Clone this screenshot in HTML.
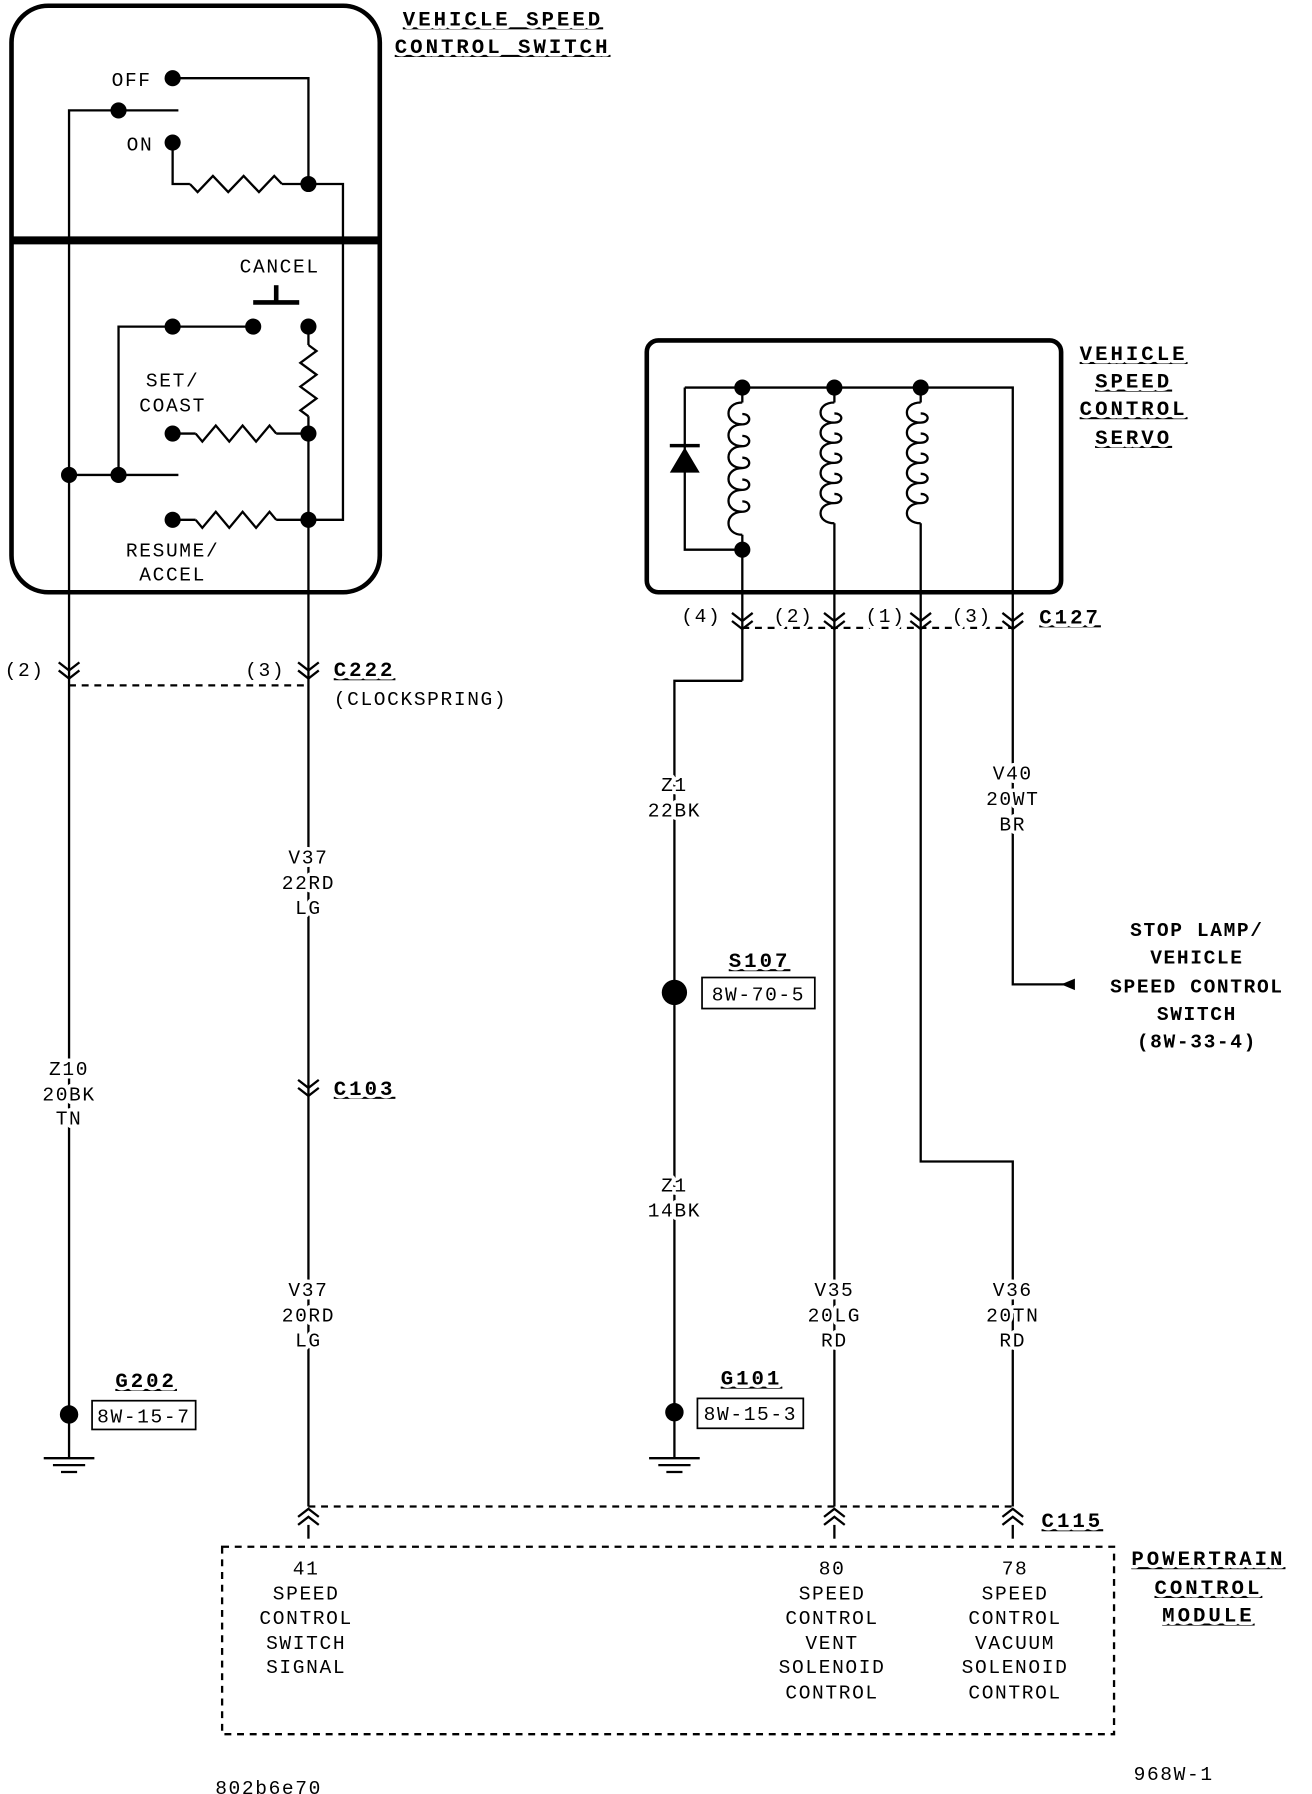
<!DOCTYPE html>
<html><head><meta charset="utf-8"><style>
html,body{margin:0;padding:0;background:#fff;}
svg{display:block}
text{font-family:"Liberation Mono",monospace;font-size:17px;fill:#000;paint-order:stroke;stroke:#fff;stroke-width:6px;stroke-linejoin:round;letter-spacing:1.4px;}
.b{font-weight:bold;font-size:18px;text-decoration:underline;letter-spacing:2.6px;}
.m{text-anchor:middle}
</style></head><body>
<svg width="1312" height="1794" viewBox="0 0 1140 1560" preserveAspectRatio="none" xmlns="http://www.w3.org/2000/svg">
<g fill="none" stroke="#000" stroke-width="2">
<rect x="10" y="5" width="320" height="510" rx="32" stroke-width="4"/>
<line x1="10" y1="209" x2="330" y2="209" stroke-width="7"/>
<rect x="562" y="296" width="360" height="219" rx="10" stroke-width="4"/>
<polyline points="150,68 268,68 268,160"/>
<polyline points="60,1230 60,96 155,96"/>
<polyline points="150,124 150,160 165,160"/>
<polyline points="245,160 298,160 298,452 268,452"/>
<line x1="220" y1="263" x2="260" y2="263" stroke-width="4"/>
<line x1="240" y1="248" x2="240" y2="263" stroke-width="4"/>
<polyline points="150,284 220,284"/>
<polyline points="150,284 103,284 103,413"/>
<line x1="60" y1="413" x2="155" y2="413"/>
<polyline points="268,284 268,300"/>
<polyline points="268,362 268,1310"/>
<line x1="150" y1="377" x2="170" y2="377"/><line x1="240" y1="377" x2="268" y2="377"/>
<line x1="150" y1="452" x2="170" y2="452"/><line x1="240" y1="452" x2="268" y2="452"/>
<polyline points="165,160 171.7,167 185,153 198.3,167 211.7,153 225,167 238.3,153 245,160"/>
<polyline points="268,300 275,305.2 261,315.5 275,325.8 261,336.2 275,346.5 261,356.8 268,362"/>
<polyline points="170,377 175.8,384 187.5,370 199.2,384 210.8,370 222.5,384 234.2,370 240,377"/>
<polyline points="170,452 175.8,459 187.5,445 199.2,459 210.8,445 222.5,459 234.2,445 240,452"/>
<line x1="60" y1="596" x2="268" y2="596" stroke-dasharray="6,5"/>
<polyline points="595,337 880,337 880,540"/>
<polyline points="595,337 595,478 645,478"/>
<line x1="645" y1="337" x2="645" y2="350"/><line x1="645" y1="465" x2="645" y2="592"/>
<polyline points="645,592 586,592 586,1228"/>
<line x1="725" y1="337" x2="725" y2="350"/><line x1="725" y1="455" x2="725" y2="1310"/>
<line x1="800" y1="337" x2="800" y2="350"/><polyline points="800,455 800,1010 880,1010 880,1310"/>
<polyline points="880,540 880,856 928,856"/>
<line x1="645" y1="546" x2="880" y2="546" stroke-dasharray="6,5"/>
<line x1="268" y1="1310" x2="880" y2="1310" stroke-dasharray="6,5"/>
<rect x="193" y="1345" width="775" height="163" stroke-dasharray="6,5"/>
<rect x="80" y="1218" width="90" height="25" stroke-width="1.5"/>
<rect x="610" y="850" width="98" height="27" stroke-width="1.5"/>
<rect x="606" y="1216" width="92" height="26" stroke-width="1.5"/>
<!-- coils: loops -->
<path d="M645,350 c-16,0 -16,19 0,19 c8,0 8,-9 0,-9 M645,369 c-16,0 -16,19 0,19 c8,0 8,-9 0,-9 M645,388 c-16,0 -16,19 0,19 c8,0 8,-9 0,-9 M645,407 c-16,0 -16,19 0,19 c8,0 8,-9 0,-9 M645,426 c-16,0 -16,19 0,19 c8,0 8,-9 0,-9 M645,445 c-16,0 -16,20 0,20"/>
<path d="M725,350 c-16,0 -16,17.5 0,17.5 c8,0 8,-8 0,-8 M725,367.5 c-16,0 -16,17.5 0,17.5 c8,0 8,-8 0,-8 M725,385 c-16,0 -16,17.5 0,17.5 c8,0 8,-8 0,-8 M725,402.5 c-16,0 -16,17.5 0,17.5 c8,0 8,-8 0,-8 M725,420 c-16,0 -16,17.5 0,17.5 c8,0 8,-8 0,-8 M725,437.5 c-16,0 -16,17.5 0,17.5"/>
<path d="M800,350 c-16,0 -16,17.5 0,17.5 c8,0 8,-8 0,-8 M800,367.5 c-16,0 -16,17.5 0,17.5 c8,0 8,-8 0,-8 M800,385 c-16,0 -16,17.5 0,17.5 c8,0 8,-8 0,-8 M800,402.5 c-16,0 -16,17.5 0,17.5 c8,0 8,-8 0,-8 M800,420 c-16,0 -16,17.5 0,17.5 c8,0 8,-8 0,-8 M800,437.5 c-16,0 -16,17.5 0,17.5"/>
<!-- chevrons down -->
<path d="M51,576 L60,583 L69,576 M51,583 L60,590 L69,583"/>
<path d="M259,576 L268,583 L277,576 M259,583 L268,590 L277,583"/>
<path d="M259,939 L268,946 L277,939 M259,946 L268,953 L277,946"/>
<path d="M636,533 L645,540 L654,533 M636,540 L645,547 L654,540"/>
<path d="M716,533 L725,540 L734,533 M716,540 L725,547 L734,540"/>
<path d="M791,533 L800,540 L809,533 M791,540 L800,547 L809,540"/>
<path d="M871,533 L880,540 L889,533 M871,540 L880,547 L889,540"/>
<!-- chevrons up -->
<path d="M259,1319 L268,1312 L277,1319 M259,1326 L268,1319 L277,1326"/>
<path d="M716,1319 L725,1312 L734,1319 M716,1326 L725,1319 L734,1326"/>
<path d="M871,1319 L880,1312 L889,1319 M871,1326 L880,1319 L889,1326"/>
<line x1="268" y1="1326" x2="268" y2="1338"/><line x1="725" y1="1326" x2="725" y2="1338"/><line x1="880" y1="1326" x2="880" y2="1338"/>
<!-- grounds -->
<line x1="38" y1="1268" x2="82" y2="1268"/><line x1="46" y1="1274" x2="74" y2="1274"/><line x1="53" y1="1280" x2="67" y2="1280"/><line x1="60" y1="1230" x2="60" y2="1268"/>
<line x1="564" y1="1268" x2="608" y2="1268"/><line x1="572" y1="1274" x2="600" y2="1274"/><line x1="579" y1="1280" x2="593" y2="1280"/><line x1="586" y1="1228" x2="586" y2="1268"/>
</g>
<g fill="#000">
<polygon points="582,411 608,411 595,389"/>
<rect x="582" y="386" width="26" height="3"/>
<polygon points="922,856 934,851 934,861"/>
<circle cx="150" cy="68" r="7"/><circle cx="103" cy="96" r="7"/><circle cx="150" cy="124" r="7"/><circle cx="268" cy="160" r="7"/>
<circle cx="150" cy="284" r="7"/><circle cx="220" cy="284" r="7"/><circle cx="268" cy="284" r="7"/>
<circle cx="150" cy="377" r="7"/><circle cx="268" cy="377" r="7"/><circle cx="60" cy="413" r="7"/><circle cx="103" cy="413" r="7"/>
<circle cx="150" cy="452" r="7"/><circle cx="268" cy="452" r="7"/>
<circle cx="645" cy="337" r="7"/><circle cx="725" cy="337" r="7"/><circle cx="800" cy="337" r="7"/><circle cx="645" cy="478" r="7"/>
<circle cx="60" cy="1230" r="8"/><circle cx="586" cy="1228" r="8"/><circle cx="586" cy="863" r="11"/>
</g>
<g>
<text x="97" y="75">OFF</text><text x="110" y="131">ON</text>
<text x="243" y="237" class="m">CANCEL</text>
<text x="150" y="336" class="m">SET/</text><text x="150" y="358" class="m">COAST</text>
<text x="150" y="484" class="m">RESUME/</text><text x="150" y="505" class="m">ACCEL</text>
<text x="4" y="588">(2)</text><text x="213" y="588">(3)</text>
<text class="b" x="290" y="588">C222</text><text x="290" y="613">(CLOCKSPRING)</text>
<text class="m" x="268" y="751">V37</text><text class="m" x="268" y="773">22RD</text><text class="m" x="268" y="795">LG</text>
<text class="b" x="290" y="952">C103</text>
<text class="m" x="268" y="1127">V37</text><text class="m" x="268" y="1149">20RD</text><text class="m" x="268" y="1171">LG</text>
<text class="m" x="60" y="935">Z10</text><text class="m" x="60" y="957">20BK</text><text class="m" x="60" y="978">TN</text>
<text class="b m" x="127" y="1206">G202</text><text class="m" x="125" y="1237">8W-15-7</text>
<text class="b" x="350" y="22">VEHICLE SPEED</text><text class="b" x="343" y="46">CONTROL SWITCH</text>
<text class="b m" x="985" y="313">VEHICLE</text><text class="b m" x="985" y="337">SPEED</text><text class="b m" x="985" y="361">CONTROL</text><text class="b m" x="985" y="386">SERVO</text>
<text x="592" y="541">(4)</text><text x="672" y="541">(2)</text><text x="752" y="541">(1)</text><text x="827" y="541">(3)</text>
<text class="b" x="903" y="542">C127</text>
<text class="m" x="586" y="688">Z1</text><text class="m" x="586" y="710">22BK</text>
<text class="b m" x="660" y="841">S107</text><text class="m" x="659" y="870">8W-70-5</text>
<text class="m" x="586" y="1036">Z1</text><text class="m" x="586" y="1058">14BK</text>
<text class="b m" x="653" y="1204">G101</text><text class="m" x="652" y="1235">8W-15-3</text>
<text class="m" x="880" y="678">V40</text><text class="m" x="880" y="700">20WT</text><text class="m" x="880" y="722">BR</text>
<g style="font-weight:bold;font-size:18px;letter-spacing:2.6px"><text class="m" x="1040" y="814">STOP LAMP/</text><text class="m" x="1040" y="838">VEHICLE</text><text class="m" x="1040" y="863">SPEED CONTROL</text><text class="m" x="1040" y="887">SWITCH</text><text class="m" x="1040" y="911">(8W-33-4)</text></g>
<text class="m" x="725" y="1127">V35</text><text class="m" x="725" y="1149">20LG</text><text class="m" x="725" y="1171">RD</text>
<text class="m" x="880" y="1127">V36</text><text class="m" x="880" y="1149">20TN</text><text class="m" x="880" y="1171">RD</text>
<text class="b" x="905" y="1328">C115</text>
<text class="b m" x="1050" y="1361">POWERTRAIN</text><text class="b m" x="1050" y="1386">CONTROL</text><text class="b m" x="1050" y="1410">MODULE</text>
<text class="m" x="266" y="1369">41</text><text class="m" x="266" y="1391">SPEED</text><text class="m" x="266" y="1412">CONTROL</text><text class="m" x="266" y="1434">SWITCH</text><text class="m" x="266" y="1455">SIGNAL</text>
<text class="m" x="723" y="1369">80</text><text class="m" x="723" y="1391">SPEED</text><text class="m" x="723" y="1412">CONTROL</text><text class="m" x="723" y="1434">VENT</text><text class="m" x="723" y="1455">SOLENOID</text><text class="m" x="723" y="1477">CONTROL</text>
<text class="m" x="882" y="1369">78</text><text class="m" x="882" y="1391">SPEED</text><text class="m" x="882" y="1412">CONTROL</text><text class="m" x="882" y="1434">VACUUM</text><text class="m" x="882" y="1455">SOLENOID</text><text class="m" x="882" y="1477">CONTROL</text>
<text x="187" y="1560">802b6e70</text><text x="985" y="1548">968W-1</text>
</g>
</svg>
</body></html>
